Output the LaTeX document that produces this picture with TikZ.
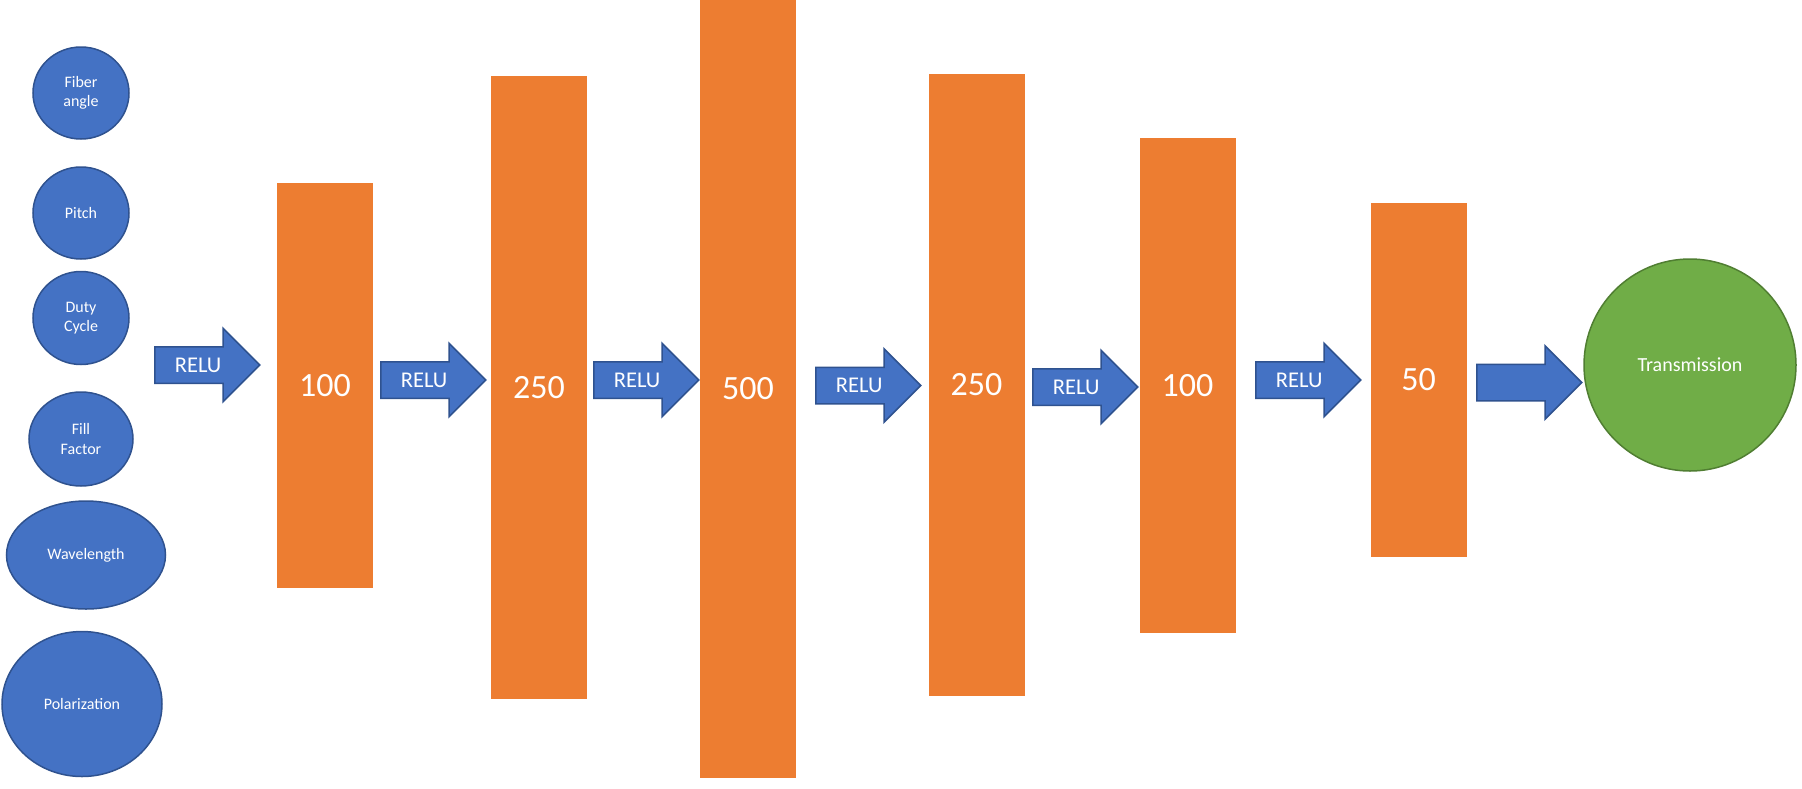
\documentclass[tikz,border=0pt]{standalone}
\usepackage{fontspec}
\setmainfont{Carlito}
\usetikzlibrary{shapes.geometric, shapes.arrows}

\definecolor{inblue}{HTML}{4472C4}
\definecolor{inblueline}{HTML}{2F528F}
\definecolor{layerorange}{HTML}{ED7D31}
\definecolor{outgreen}{HTML}{70AD47}
\definecolor{outgreenline}{HTML}{507E32}

\begin{document}
\begin{tikzpicture}[
  x=1pt, y=-1pt,
  feature/.style={ellipse, draw=inblueline, fill=inblue, line width=1.5pt, inner sep=0pt,
    text=white, align=center, font=\fontsize{16}{19.5}\selectfont},
  layer/.style={rectangle, fill=layerorange, inner sep=0pt, minimum width=96pt,
    text=white, font=\fontsize{34}{40}\selectfont},
  relu/.style={single arrow, draw=inblueline, fill=inblue, line width=1.5pt, text=white,
    font=\fontsize{22.5}{27}\selectfont, text height=14pt, text depth=0pt,
    inner ysep=10.5pt, inner xsep=6pt, single arrow head extend=18.5pt,
    minimum height=105pt, minimum width=72pt, anchor=tail},
  result/.style={circle, draw=outgreenline, fill=outgreen, line width=1.5pt, text=white,
    minimum size=212pt, inner sep=0pt, font=\fontsize{20}{24}\selectfont}
]
\useasboundingbox (0,0) rectangle (1802,788);

% --- input features, stacked on the left ---
\node[feature, minimum width=96pt, minimum height=92pt]   (fib)  at (81,93)  {Fiber\\angle};
\node[feature, minimum width=96pt, minimum height=92pt]   (pit)  at (81,213) {Pitch};
\node[feature, minimum width=96pt, minimum height=93pt]   (duty) at (81,318) {Duty\\Cycle};
\node[feature, minimum width=104pt, minimum height=94pt]  (fill) at (81,439) {Fill\\Factor};
\node[feature, minimum width=159pt, minimum height=108pt] (wave) at (86,555) {Wavelength};
\node[feature, minimum width=160pt, minimum height=145pt] (pol)  at (82,704) {Polarization};

% --- hidden layers (neurons per layer) ---
\node[layer, minimum height=405pt] (l1) at (325,385.5)  {100};
\node[layer, minimum height=623pt] (l2) at (539,387.5)  {250};
\node[layer, minimum height=778pt] (l3) at (748,389)    {500};
\node[layer, minimum height=622pt] (l4) at (976.5,385)  {250};
\node[layer, minimum height=495pt] (l5) at (1187.5,385.5) {100};
\node[layer, minimum height=354pt] (l6) at (1418.5,380) {50};

% --- activations between the layers ---
\node[relu] (r1) at (154,365)    {RELU};
\node[relu] (r2) at (380,380)    {RELU};
\node[relu] (r3) at (593,380)    {RELU};
\node[relu] (r4) at (815,385.5)  {RELU};
\node[relu] (r5) at (1032,387)   {RELU};
\node[relu] (r6) at (1255,380)   {RELU};
\node[relu] (rout) at (1476,382.5) {};

% --- output ---
\node[result] (trans) at (1690,365) {Transmission};

\end{tikzpicture}
\end{document}
